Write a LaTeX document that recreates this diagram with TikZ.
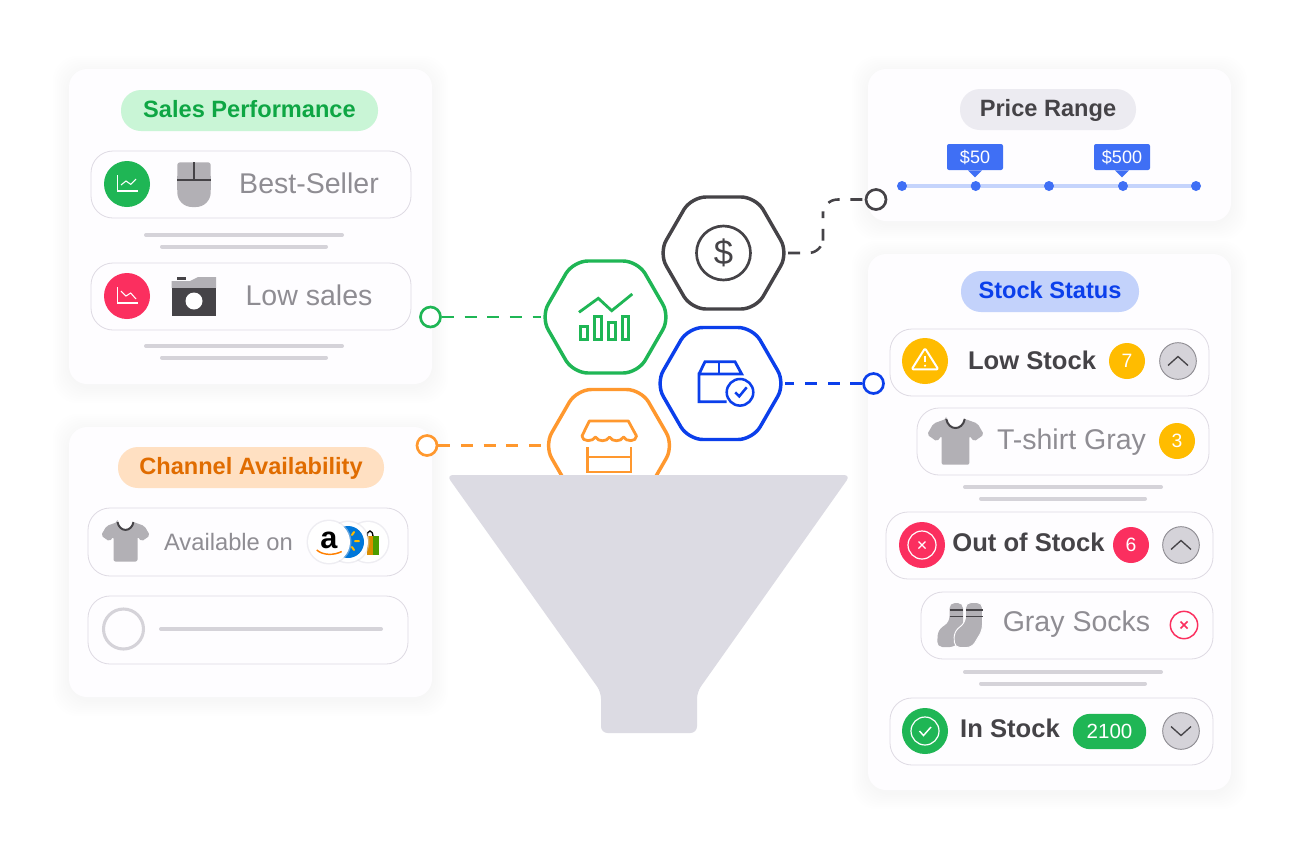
\documentclass[tikz,border=0pt]{standalone}
\usepackage{fontspec}
\setmainfont{Liberation Sans}
\usetikzlibrary{calc,shapes.geometric}

\definecolor{cardfill}{HTML}{FEFDFF}
\definecolor{rowline}{HTML}{DEDAE3}
\definecolor{barcolor}{HTML}{D5D3D9}
\definecolor{inkdark}{HTML}{454347}
\definecolor{inkgrey}{HTML}{8F8D93}
\definecolor{itemgrey}{HTML}{B2B0B5}
\definecolor{funnelgrey}{HTML}{DCDBE3}
\definecolor{okgreen}{HTML}{1FB655}
\definecolor{badred}{HTML}{FB2F5F}
\definecolor{warnyellow}{HTML}{FFBC00}
\definecolor{shopblue}{HTML}{0B3FEB}
\definecolor{shoporange}{HTML}{FF982E}
\definecolor{sliderblue}{HTML}{3F6FF5}

\def\softcard(#1)(#2){
	\foreach \g in {16,14,...,2}
		\fill[black,opacity=.0035,rounded corners=18pt] ($(#1)+(-\g,-\g+3)$) rectangle ($(#2)+(\g,\g+3)$);
	\fill[cardfill,rounded corners=13.5pt] (#1) rectangle (#2);
}
\def\tshirt(#1)(#2){
	\begin{scope}[shift={(#1)},scale=#2]
		\fill[itemgrey,rounded corners=1.5pt] (-8,-19.5) -- (-19,-15.5) -- (-24.5,-6) -- (-16,0) -- (-12,-5) -- (-12,20) -- (12,20) -- (12,-5) -- (16,0) -- (24.5,-6) -- (19,-15.5) -- (8,-19.5) .. controls (6,-9) and (-6,-9) .. (-8,-19.5) -- cycle;
		\draw[inkdark,line width=1.5pt] (-8,-19.5) .. controls (-6,-9) and (6,-9) .. (8,-19.5);
	\end{scope}
}

\tikzset{
	rowbox/.style={draw=rowline,fill=cardfill,line width=.6pt,rounded corners=16.5pt},
	greybar/.style={barcolor,line width=3pt,line cap=round},
	titlepill/.style={rounded corners=15pt,inner sep=0pt,minimum height=30.75pt,text height=10.4pt,text depth=0pt,font=\fontsize{17.7}{20}\selectfont\bfseries},
	greytext/.style={inner sep=0pt,anchor=base,text=inkgrey,font=\fontsize{21.4}{24}\selectfont},
	darktext/.style={inner sep=0pt,anchor=base,text=inkdark,font=\fontsize{19.2}{22}\selectfont\bfseries},
	badge/.style={circle,inner sep=0pt,minimum size=27pt,text=white,text height=10pt,text depth=0pt,font=\fontsize{14.5}{16}\selectfont},
	statdot/.style={circle,inner sep=0pt,minimum size=34.5pt},
	togglebtn/.style={circle,draw=inkgrey,fill=barcolor,line width=.7pt,inner sep=0pt,minimum size=27.5pt},
	hexnode/.style={regular polygon,regular polygon sides=6,minimum size=97pt,inner sep=0pt,outer sep=0pt,fill=white,line width=2.6pt,rounded corners=11pt},
	portnode/.style={circle,fill=white,line width=2pt,inner sep=0pt,minimum size=15pt},
	dashline/.style={line width=1.9pt,dash pattern=on 9pt off 8pt},
	pricetag/.style={fill=sliderblue,rounded corners=1.5pt,inner sep=0pt,minimum width=42pt,minimum height=19.5pt,text=white,text height=9.6pt,text depth=0pt,font=\fontsize{13.5}{15}\selectfont},
	iconline/.style={line width=.8pt,white},
	wireline/.style={line width=2.1pt,line join=miter},
}

\begin{document}
\begin{tikzpicture}[x=.75pt,y=-.75pt]
		%%%%% START %%%%%
		\useasboundingbox (0,0) rectangle (1300,858);
		\fill[white] (0,0) rectangle (1300,858);
		
		\softcard(69,69)(432,384)
		\softcard(69,427)(432,697)
		\softcard(868,69)(1231,221)
		\softcard(868,254)(1231,790)
		
		%%% sales performance
		\node[titlepill,fill={rgb,255:red,201;green,245;blue,214},text={rgb,255:red,14;green,166;blue,68},minimum width=192.75pt] (titlesales) at (249.5,110.5) {Sales Performance};
		\draw[rowbox] (91,151) rectangle (411,218);
		\draw[rowbox] (91,263) rectangle (411,330);
		\foreach \y in {235,346} {
			\draw[greybar] (146,\y) -- (342,\y);
			\draw[greybar] (162,\y+11.5) -- (326,\y+11.5);
		}
		\node[statdot,fill=okgreen] (dotbest) at (127,184) {};
		\draw[iconline] (117.3,175) -- (117.3,191) -- (137.7,191);
		\draw[iconline] (121,185) -- (126,181) -- (130.7,184.3) -- (136,179);
		\node[statdot,fill=badred] (dotlow) at (127,296) {};
		\draw[iconline] (117.3,287) -- (117.3,303) -- (137.7,303);
		\draw[iconline] (121,291) -- (126,296) -- (130.7,293) -- (136,299);
		
		\fill[itemgrey,rounded corners=11pt] (177.3,170) -- (177.3,207) -- (210.7,207) -- (210.7,170) -- cycle;
		\fill[itemgrey,rounded corners=2pt] (177.3,185) -- (177.3,162.3) -- (210.7,162.3) -- (210.7,185) -- cycle;
		\fill[itemgrey] (177.3,176) rectangle (210.7,190);
		\draw[inkdark,line width=1.5pt] (177.3,180) -- (210.7,180) (194,162.3) -- (194,180);
		
		\fill[itemgrey] (171.7,288) -- (171.7,281) -- (190,281) -- (198,277) -- (216,277) -- (216,288) -- cycle;
		\fill[inkdark] (177.3,276.7) rectangle (186,280);
		\fill[inkdark] (171.7,288) rectangle (216,315.7);
		\fill[white] (194,301) circle (8.5);
		
		\node[greytext] (bestseller) at (309,193.3) {Best-Seller};
		\node[greytext] (lowsales) at (309,305) {Low sales};
		
		%%% channel availability
		\node[titlepill,fill={rgb,255:red,255;green,224;blue,194},text={rgb,255:red,224;green,108;blue,0},minimum width=199.5pt] (titlechannel) at (251,467.5) {Channel Availability};
		\draw[rowbox] (88,508) rectangle (408,576);
		\draw[rowbox] (88,596) rectangle (408,664);
		\tshirt(125.5,541.5)(1)
		\node[greytext,font=\fontsize{17.8}{20}\selectfont] (availableon) at (228.5,550) {Available on};
		
		\fill[funnelgrey,opacity=.45] (368,542) circle (21.5);
		\fill[white] (368,542) circle (20);
		\draw[black,line width=1pt] (367,537) .. controls (367,529) and (373,529) .. (373,537);
		\fill[orange!70!yellow!85!black] (366.5,536) rectangle (373,555);
		\fill[green!45!black!70!yellow] (373,536) rectangle (378.5,555);
		\fill[funnelgrey,opacity=.45] (348,542) circle (21.5);
		\fill[white] (348,542) circle (20);
		\fill[blue!45!cyan!85!black] (348,542) circle (16);
		\draw[warnyellow,line width=1.5pt,line cap=round] (352,535) -- (354,532) (355,541) -- (359,541) (352,547) -- (354,550);
		\fill[funnelgrey,opacity=.45] (329,542) circle (22.5);
		\fill[white] (329,542) circle (21);
		\node[inner sep=0pt,anchor=base,font=\fontsize{23}{25}\selectfont\bfseries] (amazon) at (329,548) {a};
		\draw[orange,line width=1.1pt] (316.7,550) .. controls (323,555.5) and (334,555.5) .. (341.7,551.5);
		
		\draw[barcolor,line width=2.3pt] (123.5,629) circle (20);
		\draw[greybar] (161,629) -- (381,629);
		
		%%% price range
		\node[titlepill,fill={rgb,255:red,236;green,235;blue,241},text=inkdark,minimum width=132pt] (titleprice) at (1048,109.5) {Price Range};
		\draw[sliderblue!30!white,line width=3pt] (902,186) -- (1196,186);
		\foreach \x in {902,975.7,1049,1123,1196}
			\fill[sliderblue] (\x,186) circle (5);
		\node[pricetag] (tagfifty) at (975,157) {\$50};
		\node[pricetag] (tagfivehundred) at (1122,157) {\$500};
		\fill[sliderblue] ($(tagfifty.south)+(-7,0)$) -- ($(tagfifty.south)+(7,0)$) -- ($(tagfifty.south)+(0,7)$) -- cycle;
		\fill[sliderblue] ($(tagfivehundred.south)+(-7,0)$) -- ($(tagfivehundred.south)+(7,0)$) -- ($(tagfivehundred.south)+(0,7)$) -- cycle;
		
		%%% stock status
		\node[titlepill,fill={rgb,255:red,195;green,210;blue,251},text=shopblue,minimum width=133.5pt] (titlestock) at (1050,291.5) {Stock Status};
		\draw[rowbox] (890,329) rectangle (1209,396);
		\draw[rowbox] (917,408) rectangle (1209,475);
		\draw[rowbox] (886,512) rectangle (1213,579);
		\draw[rowbox] (921,592) rectangle (1213,659);
		\draw[rowbox] (890,698) rectangle (1213,765);
		\foreach \y in {487,672} {
			\draw[greybar] (965,\y) -- (1161,\y);
			\draw[greybar] (981,\y+11.5) -- (1145,\y+11.5);
		}
		
		\node[statdot,fill=warnyellow] (dotwarn) at (925,361) {};
		\draw[white,line width=1.5pt,line join=round,rounded corners=1pt] (925,348.3) -- (938.3,369.3) -- (911.7,369.3) -- cycle;
		\draw[white,line width=1.5pt] (925,355.5) -- (925,362);
		\fill[white] (925,365.7) circle (1.2);
		\node[darktext] (lowstock) at (1032,369) {Low Stock};
		\node[badge,fill=warnyellow] (badgeseven) at (1127,361) {7};
		\node[togglebtn] (toggleone) at (1178,361) {};
		\draw[inkdark,line width=1pt] ($(toggleone)+(-10,4.5)$) -- ($(toggleone)+(0,-4.5)$) -- ($(toggleone)+(10,4.5)$);
		
		\tshirt(955.5,441.5)(1.16)
		\node[greytext] (tshirtgray) at (1071.5,449) {T-shirt Gray};
		\node[badge,fill=warnyellow] (badgethree) at (1177,441) {3};
		
		\node[statdot,fill=badred] (dotout) at (922,545) {};
		\draw[white,line width=.9pt] (dotout) circle (14);
		\draw[white,line width=1pt] (918.5,541.5) -- (925.5,548.5) (925.5,541.5) -- (918.5,548.5);
		\node[darktext] (outofstock) at (1028.5,551.7) {Out of Stock};
		\node[badge,fill=badred] (badgesix) at (1131,545) {6};
		\node[togglebtn] (toggletwo) at (1181,545) {};
		\draw[inkdark,line width=1pt] ($(toggletwo)+(-10,4.5)$) -- ($(toggletwo)+(0,-4.5)$) -- ($(toggletwo)+(10,4.5)$);
		
		\fill[itemgrey,rounded corners=4pt] (949.5,603) -- (963,603) -- (963,636) -- (955,647) -- (937,647) -- (938,630) -- (949.5,622) -- cycle;
		\fill[itemgrey,draw=cardfill,line width=.7pt,rounded corners=4pt] (965.5,602.5) -- (982.5,602.5) -- (982.5,630) -- (972,647.5) -- (954.5,647.5) -- (954,632) -- (965.5,622) -- cycle;
		\draw[inkdark,line width=1.3pt] (949.5,610) -- (963,610) (965.5,610) -- (982.5,610) (949.5,616.5) -- (963,616.5) (965.5,616.5) -- (982.5,616.5);
		\node[greytext] (graysocks) at (1076.5,631.7) {Gray Socks};
		\node[circle,draw=badred,line width=1.1pt,inner sep=0pt,minimum size=20.5pt] (crosssocks) at (1184,625) {};
		\draw[badred,line width=1.2pt] (1180.5,621.5) -- (1187.5,628.5) (1187.5,621.5) -- (1180.5,628.5);
		
		\node[statdot,fill=okgreen] (dotin) at (925,731) {};
		\draw[white,line width=.9pt] (dotin) circle (14);
		\draw[white,line width=1.1pt] (919.5,731) -- (923.5,735.5) -- (931,727);
		\node[darktext] (instock) at (1010,737.7) {In Stock};
		\node[fill=okgreen,rounded corners=13pt,inner sep=0pt,minimum width=55pt,minimum height=26.5pt,text=white,text height=11pt,text depth=0pt,font=\fontsize{15.4}{17}\selectfont] (badgecount) at (1109.5,731.5) {2100};
		\node[togglebtn] (togglethree) at (1181,731) {};
		\draw[inkdark,line width=1pt] ($(togglethree)+(-10,-4.5)$) -- ($(togglethree)+(0,4.5)$) -- ($(togglethree)+(10,-4.5)$);
		
		%%% hexagons and their ports
		\node[portnode,draw=inkdark] (portprice) at (876,199.5) {};
		\node[portnode,draw=okgreen] (portsales) at (430.5,317) {};
		\node[portnode,draw=shopblue] (portstock) at (873.5,383.5) {};
		\node[portnode,draw=shoporange] (portchannel) at (427,445.5) {};
		\node[hexnode,draw=inkdark] (hexprice) at (723.5,253) {};
		\node[hexnode,draw=okgreen] (hexsales) at (605.5,317) {};
		\node[hexnode,draw=shopblue] (hexstock) at (720.5,383.5) {};
		\node[hexnode,draw=shoporange] (hexchannel) at (609,445.5) {};
		\coordinate (bendprice) at (823,226);
		
		\draw[dashline,inkdark,rounded corners=11pt] (hexprice.east) -| (bendprice) |- (portprice.west);
		\draw[dashline,okgreen] (portsales.east) -- (hexsales.west);
		\draw[dashline,shopblue] (portstock.west) -- (hexstock.east);
		\draw[dashline,shoporange] (portchannel.east) -- (hexchannel.west);
		
		\draw[inkdark,line width=2pt] (hexprice) circle (27);
		\node[inner sep=0pt,text=inkdark,font=\fontsize{26}{28}\selectfont] (dollar) at (723.5,253) {\$};
		
		\draw[wireline,okgreen] (579,312.3) -- (598.3,298.3) -- (611.7,310.7) -- (632.3,294);
		\draw[wireline,okgreen] (580.8,326.5) rectangle (587.8,339.5);
		\draw[wireline,okgreen] (594.8,316.5) rectangle (601.2,339.5);
		\draw[wireline,okgreen] (608.8,322.2) rectangle (615.2,339.5);
		\draw[wireline,okgreen] (622.2,316.5) rectangle (628.5,339.5);
		
		\draw[wireline,shopblue] (726.7,401.7) -- (699,401.7) -- (699,374) -- (741.7,374) -- (735,361.7) -- (705,361.7) -- (699,374);
		\draw[wireline,shopblue] (719,361.7) -- (719,374);
		\draw[shopblue,fill=white,line width=1.9pt] (740,392.3) circle (13.3);
		\draw[shopblue,line width=1.9pt] (735.2,392.3) -- (739.3,396.3) -- (746.7,387.3);
		
		\draw[wireline,shoporange,line join=round] (589.3,421) -- (628.3,421) -- (636.5,436) .. controls (636.5,442) and (626,442) .. (623.5,437) .. controls (621,442) and (612,442) .. (609.5,437) .. controls (607,442) and (598,442) .. (595.5,437) .. controls (593,442) and (582,442) .. (582,436) -- cycle;
		\draw[wireline,shoporange] (587.3,447) -- (587.3,472) -- (631,472) -- (631,447) (587.3,457) -- (631,457);
		
		%%% funnel
		\fill[funnelgrey,rounded corners=5pt] (446.5,475) -- (850.5,475) -- (697,692) -- (697,733) -- (601,733) -- (601,692) -- cycle;
		%%%%% END %%%%%
	\end{tikzpicture}
\end{document}
